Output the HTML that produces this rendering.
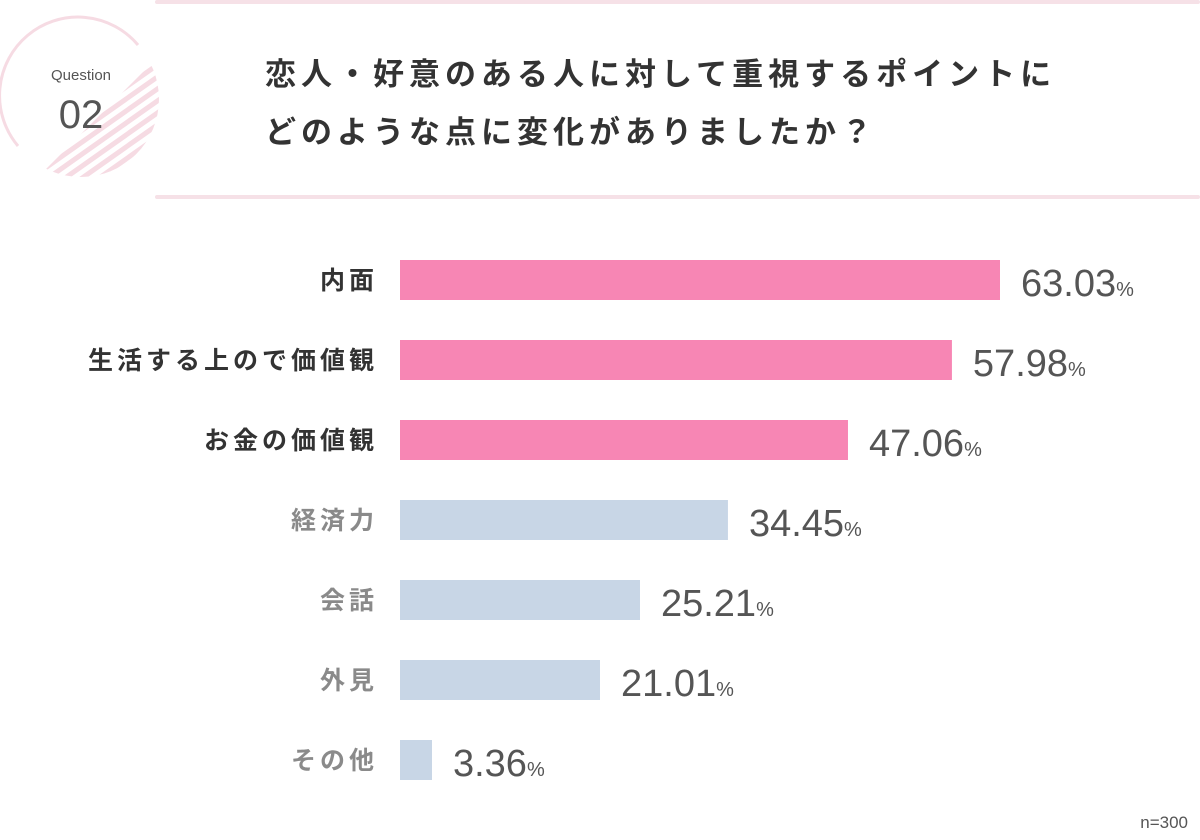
<!DOCTYPE html>
<html><head><meta charset="utf-8"><style>
body{margin:0;width:1200px;height:840px;background:#fff;position:relative;overflow:hidden;font-family:"Liberation Sans","Noto Sans CJK JP",sans-serif}
.t{position:absolute;left:265px;font-size:31px;font-weight:bold;color:#333;letter-spacing:5px;white-space:nowrap;line-height:40px}
.hl{position:absolute;left:155px;width:1045px;height:4px;background:#f6e1e7;border-radius:2px}
</style></head><body>
<div class="hl" style="top:0"></div>
<div class="hl" style="top:195px"></div>
<svg width="170" height="190" style="position:absolute;left:0;top:0">
<defs><clipPath id="cc"><circle cx="81" cy="99" r="78"/></clipPath>
<clipPath id="lr"><polygon points="160,55 160,190 25,190"/></clipPath></defs>
<path d="M 138 45 A 78 78 0 1 0 18 146" fill="none" stroke="#f6dbe3" stroke-width="3"/>
<g clip-path="url(#cc)"><g clip-path="url(#lr)" stroke="#f6dbe3" stroke-width="5">
<line x1="0" y1="140" x2="170" y2="20"/><line x1="0" y1="152" x2="170" y2="32"/><line x1="0" y1="164" x2="170" y2="44"/><line x1="0" y1="176" x2="170" y2="56"/><line x1="0" y1="188" x2="170" y2="68"/><line x1="0" y1="200" x2="170" y2="80"/><line x1="0" y1="212" x2="170" y2="92"/><line x1="0" y1="224" x2="170" y2="104"/><line x1="0" y1="236" x2="170" y2="116"/><line x1="0" y1="248" x2="170" y2="128"/><line x1="0" y1="260" x2="170" y2="140"/></g></g>
<text x="81" y="80" text-anchor="middle" font-size="15" fill="#555" font-family="Liberation Sans">Question</text>
<text x="81" y="128" text-anchor="middle" font-size="40" fill="#555" font-family="Liberation Sans">02</text>
</svg>
<div class="t" style="top:55px">恋人・好意のある人に対して重視するポイントに</div>
<div class="t" style="top:113px">どのような点に変化がありましたか？</div>
<svg id="chart" width="1200" height="840" style="position:absolute;left:0;top:0"></svg>
<div style="position:absolute;right:12px;top:813px;font-size:17px;color:#555">n=300</div>
<script>
const categories=["内面","生活する上ので価値観","お金の価値観","経済力","会話","外見","その他"];
const values=[63.03,57.98,47.06,34.45,25.21,21.01,3.36];
const highlighted=[true,true,true,false,false,false,false];
const svg=document.getElementById('chart');const NS='http://www.w3.org/2000/svg';
const x0=400,scale=600/63.03;
const xs=v=>v*scale;const yc=i=>280+i*80;
categories.forEach((c,i)=>{
 const r=document.createElementNS(NS,'rect');
 
 
 r.setAttribute('x',x0);r.setAttribute('y',yc(i)-20);r.setAttribute('width',xs(values[i]));r.setAttribute('height',40);
 r.setAttribute('fill',highlighted[i]?'#f786b4':'#c8d6e6');svg.appendChild(r);
 const l=document.createElementNS(NS,'text');
 
 
 l.setAttribute('x',378);l.setAttribute('y',yc(i)+9);l.setAttribute('text-anchor','end');
 l.setAttribute('font-size','25');l.setAttribute('letter-spacing','4');l.setAttribute('font-weight','bold');l.setAttribute('fill',highlighted[i]?'#333':'#8a8a8a');
 l.setAttribute('font-family','"Liberation Sans","Noto Sans CJK JP",sans-serif');
 l.textContent=c;svg.appendChild(l);
 const t=document.createElementNS(NS,'text');
 
 
 t.setAttribute('x',x0+xs(values[i])+21);t.setAttribute('y',yc(i)+16);
 t.setAttribute('font-size','38');t.setAttribute('fill','#555');t.setAttribute('font-family','Liberation Sans');
 t.textContent=values[i].toFixed(2);
 const p=document.createElementNS(NS,'tspan');p.setAttribute('font-size','20');p.textContent='%';t.appendChild(p);
 svg.appendChild(t);
});
</script>
</body></html>
